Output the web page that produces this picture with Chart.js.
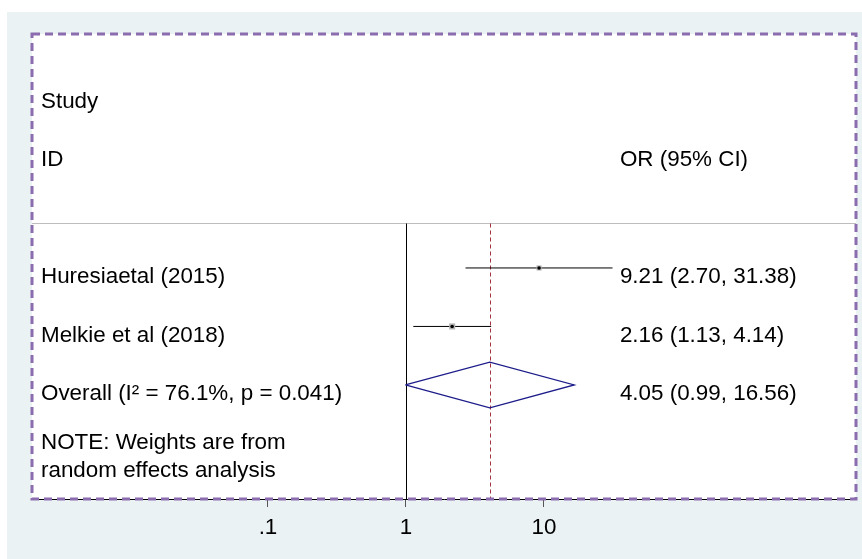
<!DOCTYPE html>
<html>
<head>
<meta charset="utf-8">
<title>Forest plot</title>
<script src="https://cdn.jsdelivr.net/npm/chart.js@4"></script>
<style>
  html, body { margin: 0; padding: 0; background: #fff; }
</style>
</head>
<body>
<canvas id="myChart" width="862" height="559"></canvas>
<script>
// study data (odds ratios, 95% CI)
const studies = ["Huresiaetal (2015)", "Melkie et al (2018)"];
const orValues = [9.21, 2.16];
const ciLow = [2.70, 1.13];
const ciHigh = [31.38, 4.14];
const ciText = ["9.21 (2.70, 31.38)", "2.16 (1.13, 4.14)"];

// pooled estimate
const overallLabel = "Overall (I\u00B2 = 76.1%, p = 0.041)";
const overallOR = [4.05];
const overallLow = [0.99];
const overallHigh = [16.56];
const overallText = ["4.05 (0.99, 16.56)"];

const headerLabels = ["Study", "ID"];
const statsHeader = "OR (95% CI)";
const noteLines = ["NOTE: Weights are from", "random effects analysis"];

const xTicks = [0.1, 1, 10];
const xTickLabels = [".1", "1", "10"];

// rows on the y scale (0 = top)
const firstStudyRow = 4;
const overallRow = firstStudyRow + studies.length;

const FONT_FAMILY = '"Liberation Sans", Arial, sans-serif';
const FONT = '22.4px ' + FONT_FAMILY;

const datasets = [];
studies.forEach((s, i) => {
  datasets.push({
    label: s + " CI",
    data: [{ x: ciLow[i], y: firstStudyRow + i }, { x: ciHigh[i], y: firstStudyRow + i }],
    showLine: true,
    borderColor: "#000",
    borderWidth: 1,
    pointRadius: 0,
    order: 3,
  });
});
datasets.push({
  label: "weights",
  data: studies.map((s, i) => ({ x: orValues[i], y: firstStudyRow + i })),
  pointStyle: "rect",
  pointRadius: [3.6, 4.3],
  backgroundColor: "#b3b3b3",
  borderWidth: 0,
  order: 2,
});
datasets.push({
  label: "estimates",
  data: studies.map((s, i) => ({ x: orValues[i], y: firstStudyRow + i })),
  pointStyle: "circle",
  pointRadius: 1.8,
  backgroundColor: "#000",
  borderWidth: 0,
  order: 1,
});
datasets.push({
  label: "overall",
  data: [
    { x: overallLow[0], y: overallRow },
    { x: overallOR[0], y: overallRow - 0.39 },
    { x: overallHigh[0], y: overallRow },
    { x: overallOR[0], y: overallRow + 0.39 },
    { x: overallLow[0], y: overallRow },
  ],
  showLine: true,
  borderColor: "#1c1c8a",
  borderWidth: 1.3,
  pointRadius: 0,
  tension: 0,
  order: 3,
});

const forestDraw = {
  id: "forestDraw",
  beforeDraw(chart) {
    const { ctx, chartArea: a, width, height } = chart;
    ctx.save();
    ctx.fillStyle = "#ffffff";
    ctx.fillRect(0, 0, width, height);
    ctx.fillStyle = "#eaf2f3";
    ctx.fillRect(7, 12, width - 7, height - 12);
    ctx.fillStyle = "#ffffff";
    ctx.fillRect(a.left, a.top, a.right - a.left, a.bottom - a.top);
    ctx.restore();
  },
  beforeDatasetsDraw(chart) {
    const { ctx, chartArea: a, scales: { x, y } } = chart;
    const yHead = Math.round(y.getPixelForValue(3.23)) + 0.5;
    ctx.save();
    ctx.lineWidth = 1;
    ctx.strokeStyle = "#bdbdbd";
    ctx.beginPath();
    ctx.moveTo(a.left, yHead);
    ctx.lineTo(a.right, yHead);
    ctx.stroke();

    // no-effect line
    const x1 = Math.round(x.getPixelForValue(1)) + 0.5;
    ctx.strokeStyle = "#000";
    ctx.beginPath();
    ctx.moveTo(x1, yHead);
    ctx.lineTo(x1, a.bottom);
    ctx.stroke();

    // pooled estimate line
    const xo = Math.round(x.getPixelForValue(overallOR[0])) + 0.5;
    ctx.strokeStyle = "#a3323e";
    ctx.setLineDash([4, 3]);
    ctx.beginPath();
    ctx.moveTo(xo, yHead);
    ctx.lineTo(xo, a.bottom);
    ctx.stroke();
    ctx.restore();
  },
  afterDatasetsDraw(chart) {
    const { ctx, chartArea: a, scales: { x, y } } = chart;
    const off = 9;
    const lx = a.left + 9;
    const rx = x.getPixelForValue(35.5);
    ctx.save();
    ctx.font = FONT;
    ctx.fillStyle = "#000";
    ctx.textBaseline = "middle";
    ctx.textAlign = "left";
    headerLabels.forEach((t, i) => ctx.fillText(t, lx, y.getPixelForValue(1 + i) + off));
    ctx.fillText(statsHeader, rx, y.getPixelForValue(2) + off);
    studies.forEach((s, i) => {
      const py = y.getPixelForValue(firstStudyRow + i) + off;
      ctx.fillText(s, lx, py);
      ctx.fillText(ciText[i], rx, py);
    });
    const po = y.getPixelForValue(overallRow) + off;
    ctx.fillText(overallLabel, lx, po);
    ctx.fillText(overallText[0], rx, po);
    ctx.fillText(noteLines[0], lx, y.getPixelForValue(6.84) + off);
    ctx.fillText(noteLines[1], lx, y.getPixelForValue(7.31) + off);
    ctx.restore();
  },
  afterDraw(chart) {
    const { ctx, chartArea: a } = chart;
    ctx.save();
    ctx.strokeStyle = "#8a6caf";
    ctx.lineWidth = 3;
    ctx.setLineDash([8, 5]);
    ctx.strokeRect(a.left, a.top, a.right - a.left, a.bottom - a.top);
    ctx.restore();
  },
};

new Chart(document.getElementById("myChart").getContext("2d"), {
  type: "scatter",
  data: { datasets },
  plugins: [forestDraw],
  options: {
    responsive: false,
    animation: false,
    devicePixelRatio: 1,
    layout: { padding: { top: 34, left: 32, right: 6, bottom: 0 } },
    plugins: { legend: { display: false }, tooltip: { enabled: false } },
    scales: {
      x: {
        type: "logarithmic",
        bounds: "data",
        min: Math.pow(10, -2.71),
        max: Math.pow(10, 3.261),
        afterBuildTicks: (scale) => { scale.ticks = xTicks.map((v) => ({ value: v })); },
        afterFit: (scale) => { scale.height = 60; },
        ticks: {
          autoSkip: false,
          maxRotation: 0,
          color: "#000",
          padding: 7,
          font: { family: FONT_FAMILY, size: 22.4 },
          callback: (value, index) => xTickLabels[index],
        },
        grid: { drawOnChartArea: false, drawTicks: true, tickLength: 8, color: "#555" },
        border: { display: true, color: "#000", width: 1 },
      },
      y: {
        type: "linear",
        reverse: true,
        min: 0,
        max: 7.95,
        display: false,
      },
    },
  },
});
</script>
</body>
</html>
